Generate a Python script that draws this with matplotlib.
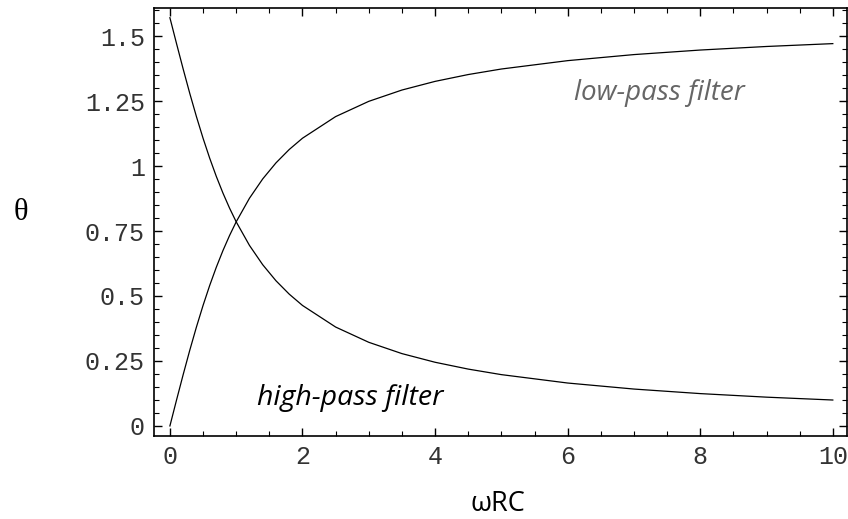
import matplotlib
matplotlib.use("Agg")
import matplotlib.pyplot as plt
from matplotlib.ticker import MultipleLocator

# omega*RC values and phase angles
omega_rc = [0, 0.1, 0.2, 0.3, 0.4, 0.5, 0.6, 0.7, 0.8, 0.9, 1.0, 1.2, 1.4, 1.6, 1.8,
            2.0, 2.5, 3.0, 3.5, 4.0, 4.5, 5.0, 6.0, 7.0, 8.0, 9.0, 10.0]
theta_rising = [0.0, 0.0997, 0.1974, 0.2915, 0.3805, 0.4636, 0.5404, 0.6107, 0.6747,
                0.7328, 0.7854, 0.8761, 0.9505, 1.0122, 1.0637, 1.1071, 1.1903,
                1.2490, 1.2925, 1.3258, 1.3521, 1.3734, 1.4056, 1.4289, 1.4464,
                1.4601, 1.4711]
theta_falling = [1.5708, 1.4711, 1.3734, 1.2793, 1.1903, 1.1071, 1.0304, 0.9601, 0.8961,
                 0.8380, 0.7854, 0.6947, 0.6203, 0.5586, 0.5071, 0.4636, 0.3805,
                 0.3218, 0.2783, 0.2450, 0.2187, 0.1974, 0.1651, 0.1419, 0.1244,
                 0.1107, 0.0997]

x_ticks = [0, 2, 4, 6, 8, 10]
x_tick_labels = ["0", "2", "4", "6", "8", "10"]
y_ticks = [0, 0.25, 0.5, 0.75, 1, 1.25, 1.5]
y_tick_labels = ["0", "0.25", "0.5", "0.75", "1", "1.25", "1.5"]

fig = plt.figure(figsize=(8.48, 5.19), dpi=100)
ax = fig.add_axes([0.1816, 0.1593, 0.8169, 0.8247])

ax.plot(omega_rc, theta_rising, color="black", lw=0.9)
ax.plot(omega_rc, theta_falling, color="black", lw=0.9)

ax.set_xlim(-0.24, 10.21)
ax.set_ylim(-0.04, 1.607)

ax.set_xticks(x_ticks)
ax.set_xticklabels(x_tick_labels)
ax.set_yticks(y_ticks)
ax.set_yticklabels(y_tick_labels)
ax.xaxis.set_minor_locator(MultipleLocator(0.5))
ax.yaxis.set_minor_locator(MultipleLocator(0.05))

ax.tick_params(which="both", direction="in", top=True, right=True,
               labeltop=False, labelright=False, color="black")
ax.tick_params(which="major", length=6, width=1.0)
ax.tick_params(which="minor", length=3.5, width=0.8)
ax.tick_params(axis="y", which="major", pad=6.5)
ax.tick_params(axis="x", which="major", pad=6)
for lab in ax.get_xticklabels() + ax.get_yticklabels():
    lab.set_fontfamily("Liberation Mono")
    lab.set_fontsize(18)
    lab.set_color("#333333")

for sp in ax.spines.values():
    sp.set_linewidth(1.2)
    sp.set_color("black")

ax.text(2.715, 0.081, "high-pass filter", family="Open Sans", style="italic",
        fontsize=20.5, color="black", ha="center", va="baseline")
ax.text(7.38, 1.254, "low-pass filter", family="Open Sans", style="italic",
        fontsize=20, color="#666666", ha="center", va="baseline")

fig.text(20.5 / 848, 1 - 213 / 519, "θ", family="Liberation Serif", fontsize=22,
         ha="center", va="center")
fig.text(498 / 848, 1 - 504 / 519, "ωRC", family="Open Sans", fontsize=19.5,
         ha="center", va="center")

fig.savefig("out.png", dpi=100)
